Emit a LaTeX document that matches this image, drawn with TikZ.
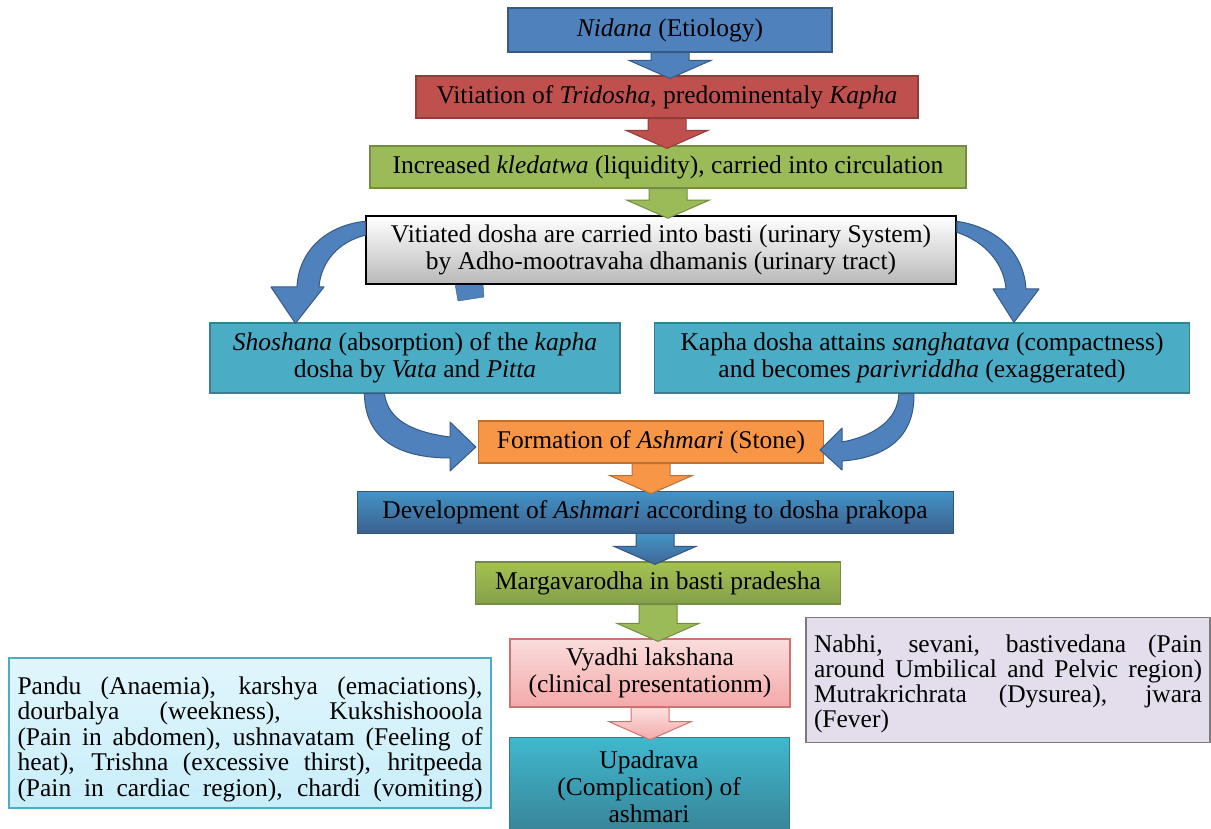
\documentclass[tikz,border=0pt]{standalone}
\usepackage{fontspec}
\setmainfont{Liberation Serif}
\usetikzlibrary{calc}

\definecolor{BoxBlue}{HTML}{4F81BD}
\definecolor{BoxRed}{HTML}{C0504D}
\definecolor{BoxGreen}{HTML}{9BBB59}
\definecolor{BoxTeal}{HTML}{4BACC6}
\definecolor{BoxOrange}{HTML}{F79646}
\definecolor{BoxPink}{HTML}{F4A9A9}
\definecolor{BoxCyan}{HTML}{C8EEFA}
\definecolor{BoxLilac}{HTML}{E4DEEC}

\tikzset{Flow Box/.style = {draw, line width = 1.2pt, inner sep = 3pt, align = center,
  font = \fontsize{25.5}{27}\selectfont}}
\tikzset{Curve Arrow/.style = {fill = BoxBlue, draw = BoxBlue!70!black, line width = 1pt,
  line join = round}}

\newcommand{\BlockArrow}[3]{%
  \coordinate (BA1) at (#1.south);
  \coordinate (BA2) at (#1.south |- #2.north);
  \draw [#3, line width = 1pt, line join = miter] ($(BA1) + (-19, 0)$) --
  ($(BA2) + (-19, -15)$) -- ($(BA2) + (-41, -15)$) -- ($(BA2) + (0, 3)$) --
  ($(BA2) + (41, -15)$) -- ($(BA2) + (19, -15)$) -- ($(BA1) + (19, 0)$) -- cycle;}

\begin{document}
\begin{tikzpicture}[x = 1pt, y = -1pt]
  \useasboundingbox (0, 0) rectangle (1211, 829);

  % main chain
  \node[Flow Box, fill = BoxBlue, draw = BoxBlue!70!black, minimum width = 324,
    minimum height = 44] (nid) at (670, 30) {\textit{Nidana} (Etiology)};
  \node[Flow Box, fill = BoxRed, draw = BoxRed!75!black, minimum width = 502,
    minimum height = 42] (tri) at (667, 97)
    {Vitiation of \textit{Tridosha}, predominentaly \textit{Kapha}};
  \node[Flow Box, fill = BoxGreen, draw = BoxGreen!75!black, minimum width = 596,
    minimum height = 42] (kle) at (668, 167)
    {Increased \textit{kledatwa} (liquidity), carried into circulation};

  % stray piece under the grey box
  \fill [BoxBlue, draw = BoxBlue!70!black] (455, 284) -- (483, 284) -- (484, 297) --
  (458, 301) -- cycle;

  \node[Flow Box, top color = white, bottom color = gray!55, draw = black,
    line width = 1.5pt, minimum width = 590, minimum height = 68] (vit) at (661, 250)
    {Vitiated dosha are carried into basti (urinary System)\\
     by Adho-mootravaha dhamanis (urinary tract)};

  \node[Flow Box, fill = BoxTeal, draw = BoxTeal!75!black, minimum width = 410,
    minimum height = 70] (sho) at (415, 358)
    {\textit{Shoshana} (absorption) of the \textit{kapha}\\
     dosha by \textit{Vata} and \textit{Pitta}};
  \node[Flow Box, fill = BoxTeal, draw = BoxTeal!75!black, minimum width = 535,
    minimum height = 70] (kap) at (922, 358)
    {Kapha dosha attains \textit{sanghatava} (compactness)\\
     and becomes \textit{parivriddha} (exaggerated)};

  \node[Flow Box, fill = BoxOrange, draw = BoxOrange!75!black, minimum width = 345,
    minimum height = 42] (form) at (651, 442) {Formation of \textit{Ashmari} (Stone)};
  \node[Flow Box, top color = BoxBlue!85!cyan, bottom color = BoxBlue!75!black,
    draw = BoxBlue!65!black, line width = 0.6pt, minimum width = 596,
    minimum height = 42] (dev) at (655, 512)
    {Development of \textit{Ashmari} according to dosha prakopa};
  \node[Flow Box, top color = BoxGreen!90!yellow, bottom color = BoxGreen!85!black,
    draw = BoxGreen!75!black, minimum width = 365, minimum height = 42] (marg)
    at (658, 583) {Margavarodha in basti pradesha};

  \node[Flow Box, top color = BoxPink!40!white, bottom color = BoxPink,
    draw = BoxRed!80!white, minimum width = 280, minimum height = 68] (vya)
    at (650, 673) {Vyadhi lakshana\\ (clinical presentationm)};
  \node[Flow Box, top color = BoxTeal!85!cyan, bottom color = BoxTeal!75!black,
    draw = BoxTeal!70!black, line width = 0.6pt, minimum width = 280,
    minimum height = 100] (upa) at (649, 787)
    {Upadrava\\ (Complication) of\\ ashmari};

  % side notes
  \node[Flow Box, top color = BoxCyan!55!white, bottom color = BoxCyan, draw = BoxTeal,
    align = left, minimum width = 482, minimum height = 150,
    font = \fontsize{25.5}{25.5}\selectfont] (sym) at (250, 733)
    {\rule{0pt}{30pt}\makebox[465pt][s]{Pandu (Anaemia), karshya (emaciations),}\\
     \makebox[465pt][s]{dourbalya (weekness), Kukshishooola}\\
     \makebox[465pt][s]{(Pain in abdomen), ushnavatam (Feeling of}\\
     \makebox[465pt][s]{heat), Trishna (excessive thirst), hritpeeda}\\
     \makebox[465pt][s]{(Pain in cardiac region), chardi (vomiting)}};
  \node[Flow Box, fill = BoxLilac, draw = BoxLilac!55!black, align = left,
    minimum width = 404, minimum height = 125, font = \fontsize{25.5}{25}\selectfont]
    (pain) at (1008, 680)
    {\rule{0pt}{25pt}\makebox[388pt][s]{Nabhi, sevani, bastivedana (Pain}\\
     \makebox[388pt][s]{around Umbilical and Pelvic region)}\\
     \makebox[388pt][s]{Mutrakrichrata (Dysurea), jwara}\\
     (Fever)};

  % straight block arrows
  \BlockArrow{nid}{tri}{fill = BoxBlue, draw = BoxBlue!70!black}
  \BlockArrow{tri}{kle}{fill = BoxRed, draw = BoxRed!75!black}
  \BlockArrow{kle}{vit}{fill = BoxGreen, draw = BoxGreen!75!black}
  \BlockArrow{form}{dev}{fill = BoxOrange, draw = BoxOrange!75!black}
  \BlockArrow{dev}{marg}{top color = BoxBlue!85!cyan, bottom color = BoxBlue!80!black,
    draw = BoxBlue!65!black}
  \BlockArrow{marg}{vya}{fill = BoxGreen, draw = BoxGreen!75!black}
  \BlockArrow{vya}{upa}{top color = BoxPink!35!white, bottom color = BoxPink,
    draw = BoxRed!80!white}

  % curved arrows
  \draw [Curve Arrow] ($(vit.north west) + (0, 6)$) .. controls (322, 226) and
  (298, 255) .. (297, 287) -- (271, 287) -- ($(sho.north west) + (86, 1)$) --
  (324, 287) -- (319, 287) .. controls (321, 262) and (338, 242) ..
  ($(vit.north west) + (0, 20)$) -- cycle;

  \draw [Curve Arrow] ($(vit.north east) + (0, 6)$) .. controls (1000, 228) and
  (1024, 255) .. (1026, 289) -- (1039, 289) -- ($(kap.north west) + (360, 0)$) --
  (993, 289) -- (1006, 289) .. controls (1004, 264) and (986, 242) ..
  ($(vit.north east) + (0, 17)$) -- cycle;

  \draw [Curve Arrow] ($(sho.south west) + (155, 0)$) .. controls (365, 440) and
  (400, 458) .. (450, 458) -- (450, 471) -- ($(form.west) + (-2, 5)$) --
  (450, 422) -- (450, 437) .. controls (412, 432) and (388, 420) ..
  ($(sho.south west) + (175, 0)$) -- cycle;

  \draw [Curve Arrow] ($(kap.south west) + (260, 0)$) .. controls (915, 438) and
  (885, 458) .. (842, 461) -- (842, 470) -- ($(form.east) + (-4, 8)$) --
  (842, 428) -- (842, 442) .. controls (874, 436) and (898, 420) ..
  ($(kap.south west) + (245, 0)$) -- cycle;
\end{tikzpicture}
\end{document}
